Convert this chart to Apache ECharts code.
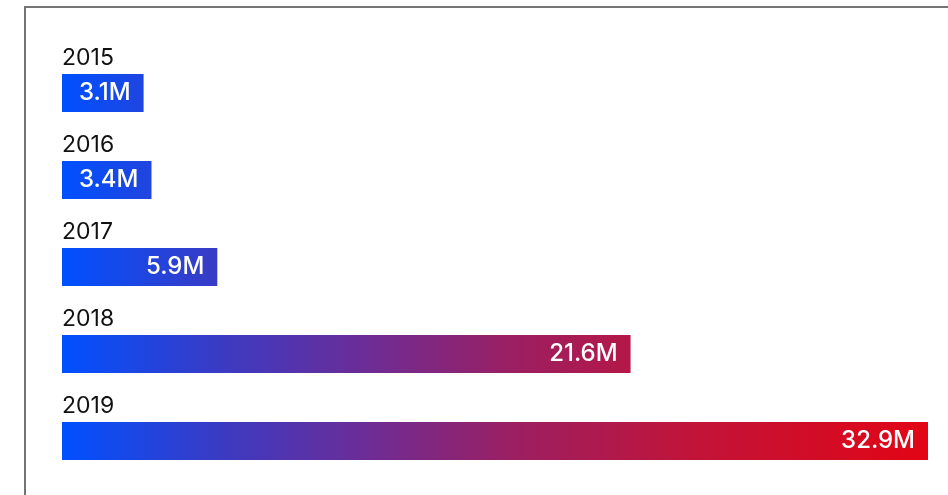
<!DOCTYPE html>
<html>
<head>
<meta charset="utf-8">
<script src="https://cdn.jsdelivr.net/npm/echarts@6/dist/echarts.min.js"></script>
<style>
  html, body { margin: 0; padding: 0; background: #fff; overflow: hidden; }
  #chart { width: 948px; height: 495px; }
  #frame {
    position: absolute; left: 24px; top: 6px; width: 1000px; height: 600px;
    border: 2px solid #747474; pointer-events: none;
  }
</style>
</head>
<body>
<div id="chart"></div>
<div id="frame"></div>
<script>
const years = ["2015", "2016", "2017", "2018", "2019"];
const values = [3.1, 3.4, 5.9, 21.6, 32.9];

const chart = echarts.init(document.getElementById("chart"));

const gridLeft = 62;
const gridRight = 20;

// one gradient across the whole plot width, so short bars only show the blue end
const barColor = new echarts.graphic.LinearGradient(
  gridLeft, 0, 948 - gridRight, 0,
  [
    { offset: 0, color: "#0050ff" },
    { offset: 0.18, color: "#3a3bc4" },
    { offset: 0.35, color: "#6c2c96" },
    { offset: 0.52, color: "#9b1f62" },
    { offset: 0.72, color: "#c0143a" },
    { offset: 1, color: "#e20515" },
  ],
  true
);

chart.setOption({
  animation: false,
  grid: { left: gridLeft, right: gridRight, top: 49.5, bottom: 10.5 },
  xAxis: {
    type: "value",
    min: 0,
    max: "dataMax",
    show: false,
  },
  yAxis: {
    type: "category",
    data: years,
    inverse: true,
    show: false,
  },
  series: [
    {
      type: "bar",
      data: values,
      barWidth: 38,
      itemStyle: { color: barColor },
      label: {
        show: true,
        position: "insideRight",
        distance: 13,
        color: "#fff",
        fontSize: 24,
        fontWeight: 500,
        fontFamily: "Inter",
        formatter: (p) => p.value + "M",
      },
    },
    {
      // invisible twin bars that only carry the year label above each bar
      type: "bar",
      data: values,
      barWidth: 38,
      barGap: "-100%",
      silent: true,
      itemStyle: { color: "transparent" },
      label: {
        show: true,
        position: [0, -4],
        verticalAlign: "bottom",
        align: "left",
        color: "#111",
        fontSize: 23,
        fontFamily: "Inter",
        formatter: (p) => p.name,
      },
    },
  ],
});
</script>
</body>
</html>
